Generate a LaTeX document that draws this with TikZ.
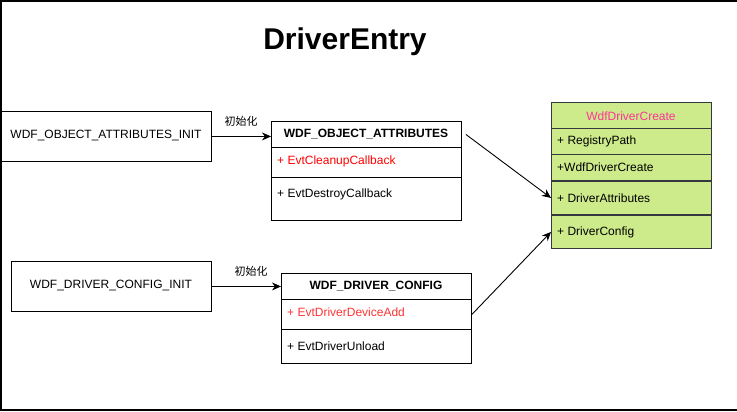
\documentclass[tikz,border=0pt]{standalone}
\usepackage{fontspec}
\setmainfont{Liberation Sans}
\newfontfamily\cjk{Noto Sans CJK SC}
\usetikzlibrary{arrows.meta}
\definecolor{grn}{HTML}{CDEB8B}
\definecolor{dk}{HTML}{36393D}
\definecolor{pinkt}{HTML}{FF3399}
\definecolor{redt}{HTML}{FF0000}
\definecolor{redl}{HTML}{FF3333}
\begin{document}
\begin{tikzpicture}[x=1pt,y=-1pt,
  every node/.style={font=\fontsize{12}{14}\selectfont, inner sep=0pt},
  box/.style={draw=black, line width=0.9pt, rectangle, anchor=north west},
  gbox/.style={draw=dk, fill=grn, line width=0.9pt, rectangle, anchor=north west},
  rowtxt/.style={anchor=west},
  arr/.style={draw=black, line width=0.9pt, -{Stealth[length=9pt,width=8pt]}},
  lbl/.style={font=\cjk\fontsize{11}{13}\selectfont}
]
\useasboundingbox (0,0) rectangle (737,412);
% outer frame
\draw[line width=1.5pt] (737,1) coordinate (f1) -- (1,1) -- (1,410) -- (737,410) coordinate (f2);

% title
\node[font=\bfseries\fontsize{30}{34}\selectfont] (title) at (345,42) {DriverEntry};

% init boxes
\node[box, minimum width=211pt, minimum height=50pt] (oinit) at (0,111) {};
\node (oinitt) at (106,136) {WDF\_OBJECT\_ATTRIBUTES\_INIT};
\node[box, minimum width=200pt, minimum height=50pt] (dinit) at (11,261) {};
\node (dinitt) at (111,286) {WDF\_DRIVER\_CONFIG\_INIT};

% WDF_OBJECT_ATTRIBUTES class
\node[box, minimum width=190pt, minimum height=26pt] (oah) at (271,121) {};
\node[font=\bfseries\fontsize{12}{14}\selectfont] at (366,134) {WDF\_OBJECT\_ATTRIBUTES};
\node[box, minimum width=190pt, minimum height=30pt] (oa1) at (271,147) {};
\node[rowtxt, text=redt] at (277,161) {+ EvtCleanupCallback};
\node[box, minimum width=190pt, minimum height=43pt] (oa2) at (271,177) {};
\node[rowtxt] at (277,194) {+ EvtDestroyCallback};

% WDF_DRIVER_CONFIG class
\node[box, minimum width=190pt, minimum height=26pt] (dch) at (281,273) {};
\node[font=\bfseries\fontsize{12}{14}\selectfont] at (376,286) {WDF\_DRIVER\_CONFIG};
\node[box, minimum width=190pt, minimum height=30pt] (dc1) at (281,299) {};
\node[rowtxt, text=redl] at (287,312) {+ EvtDriverDeviceAdd};
\node[box, minimum width=190pt, minimum height=34pt] (dc2) at (281,329) {};
\node[rowtxt] at (287,346) {+ EvtDriverUnload};

% WdfDriverCreate
\node[gbox, minimum width=160pt, minimum height=26pt] (wh) at (551,102) {};
\node[text=pinkt] at (631,116) {WdfDriverCreate};
\node[gbox, minimum width=160pt, minimum height=26pt] (w1) at (551,128) {};
\node[rowtxt] at (557,141) {+ RegistryPath};
\node[gbox, minimum width=160pt, minimum height=26pt] (w2) at (551,154) {};
\node[rowtxt] at (557,167) {+WdfDriverCreate};
\node[gbox, minimum width=160pt, minimum height=33pt] (w3) at (551,181) {};
\node[rowtxt] at (557,198) {+ DriverAttributes};
\node[gbox, minimum width=160pt, minimum height=33pt] (w4) at (551,215) {};
\node[rowtxt] at (557,232) {+ DriverConfig};
\draw[draw=dk, line width=1.6pt] (w3.north west) -- (w3.north east);
\draw[draw=dk, line width=1.6pt] (w4.north west) -- (w4.north east);

% connectors
\draw[arr] (oinit.east) -- (oah.west |- oinit.east);
\node[lbl] at (241,121) {初始化};
\draw[arr] (dinit.east) -- (dch.west);
\node[lbl] at (251,271) {初始化};
\draw[arr] ([xshift=4pt]oah.east) -- (w3.west);
\draw[arr] (dc1.east) -- (w4.west);
\end{tikzpicture}
\end{document}
